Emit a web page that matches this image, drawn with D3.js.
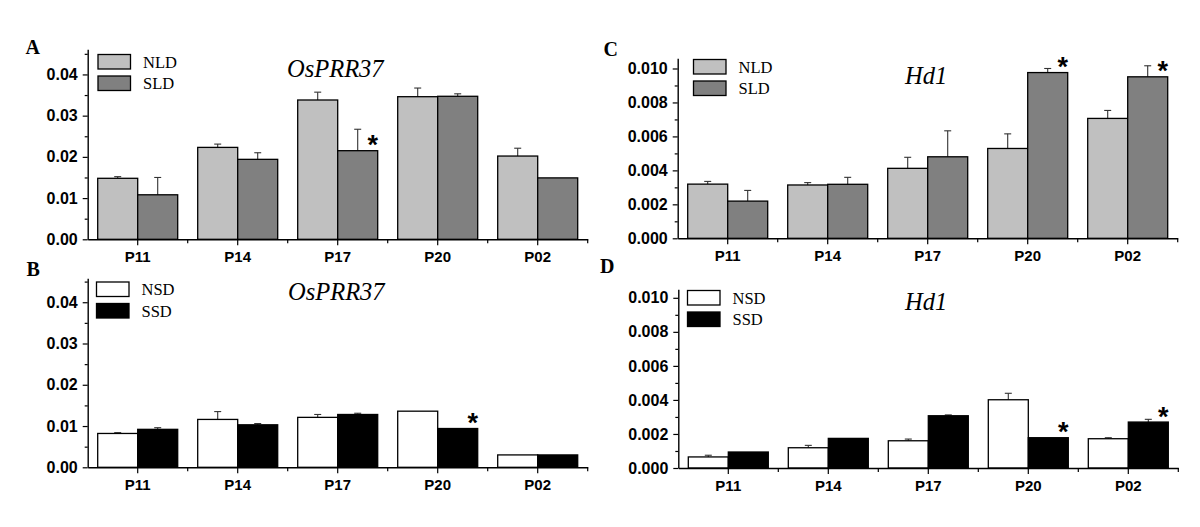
<!DOCTYPE html>
<html>
<head>
<meta charset="utf-8">
<script src="https://cdn.jsdelivr.net/npm/d3@7"></script>
<style>
  html, body { margin: 0; padding: 0; background: #fff; }
  svg { display: block; }
</style>
</head>
<body>
<svg id="chart" width="1200" height="527"></svg>
<script>
// ---------------- DATA ----------------
const categories = ["P11", "P14", "P17", "P20", "P02"];

// Panel A: OsPRR37, long day
const prrNLD    = [0.0148, 0.0223, 0.0338, 0.0346, 0.0202];
const prrNLDErr = [0.0004, 0.0008, 0.0019, 0.0021, 0.0019];
const prrSLD    = [0.0108, 0.0194, 0.0215, 0.0347, 0.0149];
const prrSLDErr = [0.0042, 0.0016, 0.0052, 0.0006, 0.0000];
const prrLDStar = [false, false, true, false, false];

// Panel B: OsPRR37, short day
const prrNSD    = [0.0082, 0.0116, 0.0121, 0.0136, 0.0030];
const prrNSDErr = [0.0002, 0.0019, 0.0007, 0.0000, 0.0000];
const prrSSD    = [0.0092, 0.0103, 0.0128, 0.0094, 0.0030];
const prrSSDErr = [0.0004, 0.0003, 0.0003, 0.0000, 0.0000];
const prrSDStar = [false, false, false, true, false];

// Panel C: Hd1, long day
const hdNLD    = [0.00319, 0.00314, 0.00412, 0.00529, 0.00706];
const hdNLDErr = [0.00016, 0.00014, 0.00065, 0.00086, 0.00047];
const hdSLD    = [0.00219, 0.00318, 0.00480, 0.00976, 0.00951];
const hdSLDErr = [0.00063, 0.00041, 0.00153, 0.00024, 0.00065];
const hdLDStar = [false, false, false, true, true];

// Panel D: Hd1, short day
const hdNSD    = [0.00065, 0.00119, 0.00160, 0.00401, 0.00172];
const hdNSDErr = [0.00010, 0.00014, 0.00010, 0.00038, 0.00006];
const hdSSD    = [0.00094, 0.00174, 0.00307, 0.00178, 0.00270];
const hdSSDErr = [0.00000, 0.00000, 0.00005, 0.00000, 0.00016];
const hdSDStar = [false, false, false, true, true];

const legendLD = ["NLD", "SLD"];
const legendSD = ["NSD", "SSD"];
const ticksPRR = [0, 0.01, 0.02, 0.03, 0.04];
const ticksHd  = [0, 0.002, 0.004, 0.006, 0.008, 0.010];

// ---------------- DRAW ----------------
const svg = d3.select("#chart");
const SANS = "'Liberation Sans', Arial, sans-serif";
const SERIF = "'Liberation Serif', 'Times New Roman', serif";

function drawPanel(p) {
  const g = svg.append("g");
  const x = d3.scaleBand().domain(categories)
    .range([p.left, p.left + 500]).paddingInner(0.2).paddingOuter(0.1);
  const sub = d3.scaleBand().domain([0, 1]).range([0, x.bandwidth()]);
  const y = d3.scaleLinear().domain([0, p.max]).range([p.zero, p.top]);

  const rows = [];
  categories.forEach((c, i) => {
    rows.push({c, k: 0, v: p.s1[i], e: p.e1[i], star: false});
    rows.push({c, k: 1, v: p.s2[i], e: p.e2[i], star: p.star[i]});
  });

  // error bars
  const eb = g.append("g").attr("stroke", "#333").attr("stroke-width", 1.1);
  rows.filter(r => r.e > 0).forEach(r => {
    const cx = x(r.c) + sub(r.k) + sub.bandwidth() / 2;
    eb.append("line").attr("x1", cx).attr("x2", cx).attr("y1", y(r.v)).attr("y2", y(r.v + r.e));
    eb.append("line").attr("x1", cx - 3.5).attr("x2", cx + 3.5).attr("y1", y(r.v + r.e)).attr("y2", y(r.v + r.e));
  });

  // bars
  g.append("g").selectAll("rect").data(rows).join("rect")
    .attr("x", r => x(r.c) + sub(r.k))
    .attr("y", r => y(r.v))
    .attr("width", sub.bandwidth())
    .attr("height", r => y(0) - y(r.v))
    .attr("fill", r => p.colors[r.k])
    .attr("stroke", "#000")
    .attr("stroke-width", 1.3);

  // asterisks
  g.append("g").selectAll("text").data(rows.filter(r => r.star)).join("text")
    .attr("x", r => x(r.c) + sub(r.k) + sub.bandwidth() - 5)
    .attr("y", r => y(r.v) + 3.5)
    .attr("text-anchor", "middle")
    .attr("font-family", SANS).attr("font-weight", "bold").attr("font-size", 27)
    .text("*");

  // y axis
  const yAxis = g.append("g").attr("transform", `translate(${p.left},0)`)
    .call(d3.axisLeft(y).tickValues(p.ticks).tickFormat(d3.format(p.fmt))
      .tickSize(5).tickPadding(5).tickSizeOuter(0));
  const minorVals = d3.range(p.ticks[1] / 2, p.max, p.ticks[1]);
  g.append("g").attr("transform", `translate(${p.left},0)`)
    .call(d3.axisLeft(y).tickValues(minorVals).tickFormat("").tickSize(3).tickSizeOuter(0))
    .call(a => a.select(".domain").remove());
  yAxis.selectAll("text").attr("font-family", SANS).attr("font-weight", "bold")
    .attr("font-size", 16).attr("fill", "#000");

  // x axis
  const xAxis = g.append("g").attr("transform", `translate(0,${p.zero})`)
    .call(d3.axisBottom(x).tickSize(6).tickPadding(6.4).tickSizeOuter(0));
  xAxis.selectAll("text").attr("font-family", SANS).attr("font-weight", "bold")
    .attr("font-size", 15).attr("fill", "#000");
  const bounds = categories.map(c => x(c) + x.bandwidth() + x.step() * x.paddingInner() / 2);
  g.append("g").selectAll("line").data(bounds).join("line")
    .attr("x1", d => d).attr("x2", d => d).attr("y1", p.zero).attr("y2", p.zero + 4)
    .attr("stroke", "#000").attr("stroke-width", 1.2);

  svg.selectAll(".domain").attr("stroke-width", 1.4);
  svg.selectAll(".tick line").attr("stroke-width", 1.2);

  // title
  g.append("text").attr("x", p.titleX).attr("y", p.titleY)
    .attr("font-family", SERIF).attr("font-style", "italic").attr("font-size", 24.5)
    .text(p.title);

  // panel letter
  g.append("text").attr("x", p.letterX).attr("y", p.letterY)
    .attr("font-family", SERIF).attr("font-weight", "bold").attr("font-size", 20)
    .text(p.letter);

  // legend
  p.legend.forEach((name, i) => {
    const ly = p.legY + i * 21.5;
    g.append("rect").attr("x", p.legX).attr("y", ly).attr("width", 32.5).attr("height", 14.5)
      .attr("fill", p.colors[i]).attr("stroke", "#000").attr("stroke-width", 1.3);
    g.append("text").attr("x", p.legX + 45).attr("y", ly + 13)
      .attr("font-family", SERIF).attr("font-size", 16.5).text(name);
  });
}

const colLD = ["#c0c0c0", "#808080"];
const colSD = ["#ffffff", "#000000"];

drawPanel({left: 87.7, zero: 239.3, top: 49.3, max: 0.0461, ticks: ticksPRR, fmt: ".2f",
  s1: prrNLD, e1: prrNLDErr, s2: prrSLD, e2: prrSLDErr, star: prrLDStar, colors: colLD,
  title: "OsPRR37", titleX: 287, titleY: 76.5, letter: "A", letterX: 25.5, letterY: 54,
  legend: legendLD, legX: 98, legY: 54.5});

drawPanel({left: 87.7, zero: 467.3, top: 278.3, max: 0.0458, ticks: ticksPRR, fmt: ".2f",
  s1: prrNSD, e1: prrNSDErr, s2: prrSSD, e2: prrSSDErr, star: prrSDStar, colors: colSD,
  title: "OsPRR37", titleX: 288, titleY: 299.5, letter: "B", letterX: 26.5, letterY: 276,
  legend: legendSD, legX: 96.5, legY: 282});

drawPanel({left: 677.7, zero: 238.3, top: 58.3, max: 0.0106, ticks: ticksHd, fmt: ".3f",
  s1: hdNLD, e1: hdNLDErr, s2: hdSLD, e2: hdSLDErr, star: hdLDStar, colors: colLD,
  title: "Hd1", titleX: 905, titleY: 84, letter: "C", letterX: 603.5, letterY: 55.5,
  legend: legendLD, legX: 693.5, legY: 59.5});

drawPanel({left: 678.3, zero: 468, top: 289.3, max: 0.0105, ticks: ticksHd, fmt: ".3f",
  s1: hdNSD, e1: hdNSDErr, s2: hdSSD, e2: hdSSDErr, star: hdSDStar, colors: colSD,
  title: "Hd1", titleX: 905, titleY: 309.5, letter: "D", letterX: 600, letterY: 273,
  legend: legendSD, legX: 687.5, legY: 290.5});
</script>
</body>
</html>
